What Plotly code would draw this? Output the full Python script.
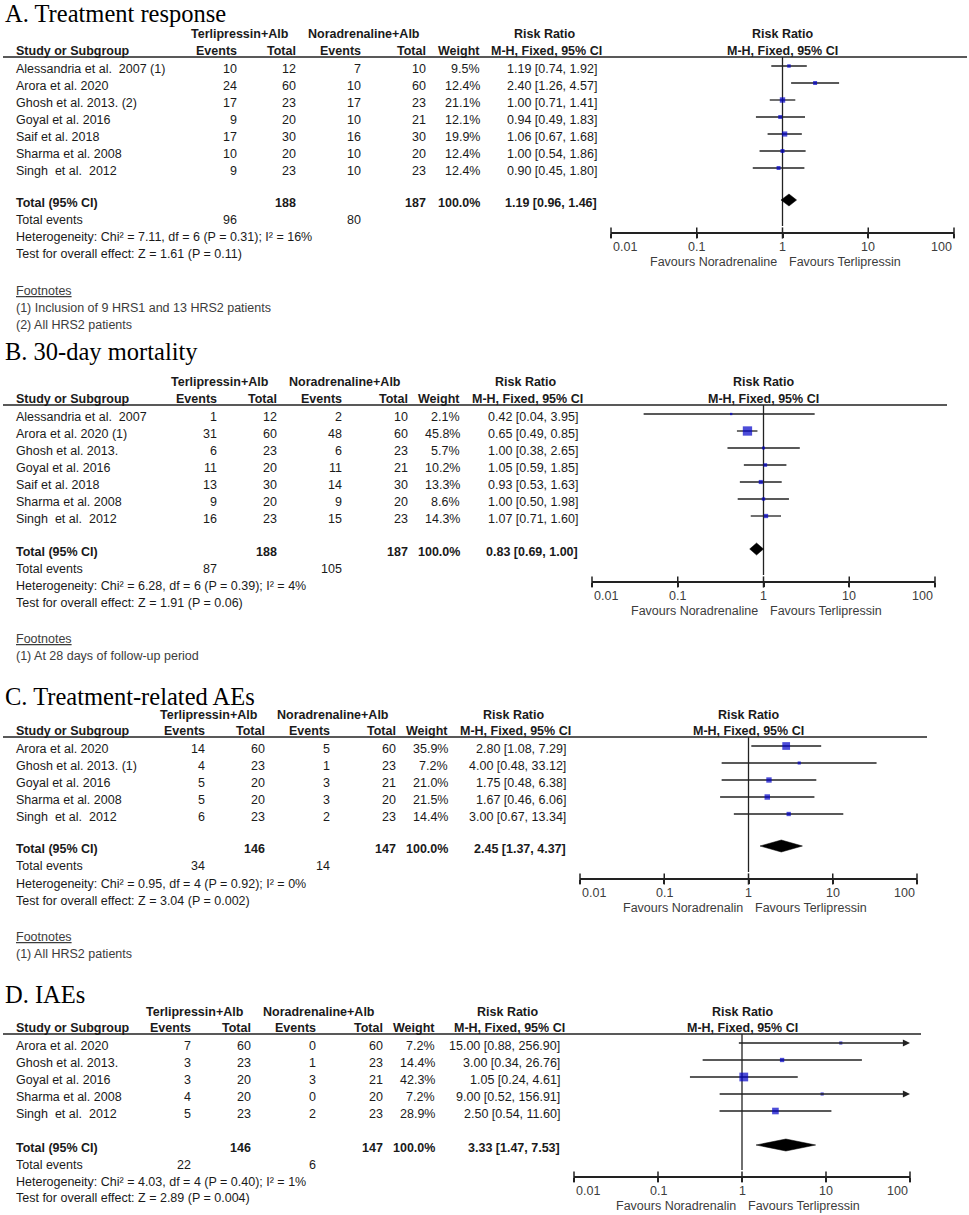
import math
import plotly.graph_objects as go

W, H = 969, 1215

# ======================= DATA =======================
TICK_VALUES = [0.01, 0.1, 1, 10, 100]
TICK_LABELS = ["0.01", "0.1", "1", "10", "100"]
GROUP_T = "Terlipressin+Alb"
GROUP_C = "Noradrenaline+Alb"
TOTAL_WEIGHT = 100.0

# ---- A. Treatment response ----
A_title = "A. Treatment response"
A_studies = ["Alessandria et al.  2007 (1)", "Arora et al. 2020", "Ghosh et al. 2013. (2)",
             "Goyal et al. 2016", "Saif et al. 2018", "Sharma et al. 2008", "Singh  et al.  2012"]
A_t_events = [10, 24, 17, 9, 17, 10, 9]
A_t_total = [12, 60, 23, 20, 30, 20, 23]
A_c_events = [7, 10, 17, 10, 16, 10, 10]
A_c_total = [10, 60, 23, 21, 30, 20, 23]
A_weight = [9.5, 12.4, 21.1, 12.1, 19.9, 12.4, 12.4]
A_rr = [1.19, 2.40, 1.00, 0.94, 1.06, 1.00, 0.90]
A_lo = [0.74, 1.26, 0.71, 0.49, 0.67, 0.54, 0.45]
A_hi = [1.92, 4.57, 1.41, 1.83, 1.68, 1.86, 1.80]
A_pooled = [1.19, 0.96, 1.46]
A_het = "Heterogeneity: Chi² = 7.11, df = 6 (P = 0.31); I² = 16%"
A_test = "Test for overall effect: Z = 1.61 (P = 0.11)"
A_footnotes = ["(1) Inclusion of 9 HRS1 and 13 HRS2 patients", "(2) All HRS2 patients"]
A_favours = ["Favours Noradrenaline", "Favours Terlipressin"]

# ---- B. 30-day mortality ----
B_title = "B. 30-day mortality"
B_studies = ["Alessandria et al.  2007", "Arora et al. 2020 (1)", "Ghosh et al. 2013.",
             "Goyal et al. 2016", "Saif et al. 2018", "Sharma et al. 2008", "Singh  et al.  2012"]
B_t_events = [1, 31, 6, 11, 13, 9, 16]
B_t_total = [12, 60, 23, 20, 30, 20, 23]
B_c_events = [2, 48, 6, 11, 14, 9, 15]
B_c_total = [10, 60, 23, 21, 30, 20, 23]
B_weight = [2.1, 45.8, 5.7, 10.2, 13.3, 8.6, 14.3]
B_rr = [0.42, 0.65, 1.00, 1.05, 0.93, 1.00, 1.07]
B_lo = [0.04, 0.49, 0.38, 0.59, 0.53, 0.50, 0.71]
B_hi = [3.95, 0.85, 2.65, 1.85, 1.63, 1.98, 1.60]
B_pooled = [0.83, 0.69, 1.00]
B_het = "Heterogeneity: Chi² = 6.28, df = 6 (P = 0.39); I² = 4%"
B_test = "Test for overall effect: Z = 1.91 (P = 0.06)"
B_footnotes = ["(1) At 28 days of follow-up period"]
B_favours = ["Favours Noradrenaline", "Favours Terlipressin"]

# ---- C. Treatment-related AEs ----
C_title = "C. Treatment-related AEs"
C_studies = ["Arora et al. 2020", "Ghosh et al. 2013. (1)", "Goyal et al. 2016",
             "Sharma et al. 2008", "Singh  et al.  2012"]
C_t_events = [14, 4, 5, 5, 6]
C_t_total = [60, 23, 20, 20, 23]
C_c_events = [5, 1, 3, 3, 2]
C_c_total = [60, 23, 21, 20, 23]
C_weight = [35.9, 7.2, 21.0, 21.5, 14.4]
C_rr = [2.80, 4.00, 1.75, 1.67, 3.00]
C_lo = [1.08, 0.48, 0.48, 0.46, 0.67]
C_hi = [7.29, 33.12, 6.38, 6.06, 13.34]
C_pooled = [2.45, 1.37, 4.37]
C_het = "Heterogeneity: Chi² = 0.95, df = 4 (P = 0.92); I² = 0%"
C_test = "Test for overall effect: Z = 3.04 (P = 0.002)"
C_footnotes = ["(1) All HRS2 patients"]
C_favours = ["Favours Noradrenalin", "Favours Terlipressin"]

# ---- D. IAEs ----
D_title = "D. IAEs"
D_studies = ["Arora et al. 2020", "Ghosh et al. 2013.", "Goyal et al. 2016",
             "Sharma et al. 2008", "Singh  et al.  2012"]
D_t_events = [7, 3, 3, 4, 5]
D_t_total = [60, 23, 20, 20, 23]
D_c_events = [0, 1, 3, 0, 2]
D_c_total = [60, 23, 21, 20, 23]
D_weight = [7.2, 14.4, 42.3, 7.2, 28.9]
D_rr = [15.00, 3.00, 1.05, 9.00, 2.50]
D_lo = [0.88, 0.34, 0.24, 0.52, 0.54]
D_hi = [256.90, 26.76, 4.61, 156.91, 11.60]
D_pooled = [3.33, 1.47, 7.53]
D_het = "Heterogeneity: Chi² = 4.03, df = 4 (P = 0.40); I² = 1%"
D_test = "Test for overall effect: Z = 2.89 (P = 0.004)"
D_footnotes = []
D_favours = ["Favours Noradrenalin", "Favours Terlipressin"]

# ======================= LAYOUT (pixel positions per panel) =======================
PANEL_LAYOUT = [
    dict(title_y=13, h1=34, h2=51, row0=66, total=200, events=220, het=237, test=254, foot=291,
         axis=233, x0=611, x1=954, line_end=967, cols=(239, 298, 363, 428, 482, 599), groups=(240, 364)),
    dict(title_y=351, h1=382, h2=399, row0=414, total=549, events=569, het=586, test=603, foot=639,
         axis=582, x0=592, x1=935, line_end=947, cols=(219, 279, 344, 410, 462, 580), groups=(220, 345)),
    dict(title_y=696, h1=715, h2=731, row0=746, total=846, events=866, het=884, test=901, foot=937,
         axis=879, x0=580, x1=917, line_end=927, cols=(207, 267, 332, 398, 450, 568), groups=(209, 333)),
    dict(title_y=994, h1=1012, h2=1028, row0=1043, total=1145, events=1165, het=1182, test=1198, foot=None,
         axis=1177, x0=574, x1=910, line_end=921, cols=(193, 253, 318, 385, 437, 562), groups=(195, 319)),
]

PANELS = [
    dict(title=A_title, studies=A_studies, te=A_t_events, tt=A_t_total, ce=A_c_events, ct=A_c_total,
         w=A_weight, rr=A_rr, lo=A_lo, hi=A_hi, pooled=A_pooled, het=A_het, test=A_test,
         foot=A_footnotes, fav=A_favours),
    dict(title=B_title, studies=B_studies, te=B_t_events, tt=B_t_total, ce=B_c_events, ct=B_c_total,
         w=B_weight, rr=B_rr, lo=B_lo, hi=B_hi, pooled=B_pooled, het=B_het, test=B_test,
         foot=B_footnotes, fav=B_favours),
    dict(title=C_title, studies=C_studies, te=C_t_events, tt=C_t_total, ce=C_c_events, ct=C_c_total,
         w=C_weight, rr=C_rr, lo=C_lo, hi=C_hi, pooled=C_pooled, het=C_het, test=C_test,
         foot=C_footnotes, fav=C_favours),
    dict(title=D_title, studies=D_studies, te=D_t_events, tt=D_t_total, ce=D_c_events, ct=D_c_total,
         w=D_weight, rr=D_rr, lo=D_lo, hi=D_hi, pooled=D_pooled, het=D_het, test=D_test,
         foot=D_footnotes, fav=D_favours),
]

ROW_DY = 17
TEXT_OFF = 2.5
FONT = "Liberation Sans, Arial, sans-serif"
SERIF = "Liberation Serif, Times New Roman, serif"
TXT = "#1a1a1a"
GREY = "#3c3c3c"
LINE = "#222222"
BLUE = "#0000C8"
FS = 12.5

fig = go.Figure()
annotations = []
shapes = []


def keep_spaces(s):
    return s.replace("  ", " \u00a0")


def txt(x, y, s, anchor="left", bold=False, size=FS, color=TXT, xref="paper", family=FONT, xshift=0):
    if bold:
        s = "<b>" + s + "</b>"
    annotations.append(dict(
        x=(x / W) if xref == "paper" else x, y=y, xref=xref, yref="y",
        text=s, showarrow=False, xanchor=anchor, yanchor="middle", xshift=xshift,
        font=dict(family=family, size=size, color=color)))


layout_axes = {}
for i, (P, L) in enumerate(zip(PANELS, PANEL_LAYOUT)):
    n = "" if i == 0 else str(i + 1)
    xname = "x" + n
    axmin, axmax = TICK_VALUES[0], TICK_VALUES[-1]
    layout_axes["xaxis" + n] = dict(
        type="log", range=[math.log10(axmin), math.log10(axmax)],
        domain=[L["x0"] / W, L["x1"] / W], anchor="free", position=1 - L["axis"] / H,
        showline=True, linecolor=LINE, linewidth=1.5,
        ticks="outside", ticklen=4, tickwidth=1.5, tickcolor=LINE,
        tickmode="array", tickvals=TICK_VALUES, showticklabels=False,
        showgrid=False, zeroline=False, fixedrange=True)

    ev_t, tot_t, ev_c, tot_c, wt, ci = L["cols"]
    g1, g2 = L["groups"]
    rr_hdr = ci - 55

    # title
    txt(3, L["title_y"], P["title"], size=24.5, color="#000000", family=SERIF)

    # headers
    txt(g1, L["h1"], GROUP_T, "center", bold=True)
    txt(g2, L["h1"], GROUP_C, "center", bold=True)
    txt(rr_hdr, L["h1"], "Risk Ratio", "center", bold=True)
    txt(0, L["h1"], "Risk Ratio", "center", bold=True, xref=xname)
    txt(14, L["h2"], "Study or Subgroup", "left", bold=True)
    txt(ev_t, L["h2"], "Events", "right", bold=True)
    txt(tot_t, L["h2"], "Total", "right", bold=True)
    txt(ev_c, L["h2"], "Events", "right", bold=True)
    txt(tot_c, L["h2"], "Total", "right", bold=True)
    txt(wt, L["h2"], "Weight", "right", bold=True)
    txt(rr_hdr + 2, L["h2"], "M-H, Fixed, 95% CI", "center", bold=True)
    txt(0, L["h2"], "M-H, Fixed, 95% CI", "center", bold=True, xref=xname)
    line_y = L["h2"] + 6
    shapes.append(dict(type="line", xref="paper", yref="y", x0=3 / W, x1=L["line_end"] / W,
                       y0=line_y, y1=line_y, line=dict(color=LINE, width=1.5)))

    # study rows
    ys = [L["row0"] + k * ROW_DY for k in range(len(P["studies"]))]
    for k, y in enumerate(ys):
        ty = y + TEXT_OFF
        txt(14, ty, keep_spaces(P["studies"][k]))
        txt(ev_t, ty, str(P["te"][k]), "right")
        txt(tot_t, ty, str(P["tt"][k]), "right")
        txt(ev_c, ty, str(P["ce"][k]), "right")
        txt(tot_c, ty, str(P["ct"][k]), "right")
        txt(wt, ty, f"{P['w'][k]:.1f}%", "right")
        txt(ci, ty, f"{P['rr'][k]:.2f} [{P['lo'][k]:.2f}, {P['hi'][k]:.2f}]", "right")

    # total rows
    ty = L["total"] + TEXT_OFF
    txt(14, ty, "Total (95% CI)", bold=True)
    txt(tot_t, ty, str(sum(P["tt"])), "right", bold=True)
    txt(tot_c, ty, str(sum(P["ct"])), "right", bold=True)
    txt(wt, ty, f"{TOTAL_WEIGHT:.1f}%", "right", bold=True)
    pe, pl, ph = P["pooled"]
    txt(ci, ty, f"{pe:.2f} [{pl:.2f}, {ph:.2f}]", "right", bold=True)
    txt(14, L["events"], "Total events")
    txt(ev_t, L["events"], str(sum(P["te"])), "right")
    txt(ev_c, L["events"], str(sum(P["ce"])), "right")
    txt(14, L["het"], P["het"])
    txt(14, L["test"], P["test"])

    if P["foot"]:
        txt(14, L["foot"], "<span style='text-decoration:underline'>Footnotes</span>", color=GREY)
        for j, f in enumerate(P["foot"]):
            txt(14, L["foot"] + 17 * (j + 1), f, color=GREY)

    # axis tick labels & favours
    anchors = ["left"] + ["center"] * (len(TICK_VALUES) - 2) + ["right"]
    for v, lab, a in zip(TICK_VALUES, TICK_LABELS, anchors):
        txt(math.log10(v), L["axis"] + 14, lab, a, color=GREY, xref=xname)
    txt(0, L["axis"] + 29, P["fav"][0], "right", color=GREY, xref=xname, xshift=-4)
    txt(0, L["axis"] + 29, P["fav"][1], "left", color=GREY, xref=xname, xshift=4)

    # tick marks crossing the axis (upper part)
    fig.add_trace(go.Scatter(x=TICK_VALUES, y=[L["axis"]] * len(TICK_VALUES), xaxis=xname, yaxis="y",
                             mode="markers", cliponaxis=False, hoverinfo="skip",
                             marker=dict(symbol="line-ns", size=8, line=dict(color=LINE, width=1.5))))

    # line of no effect
    fig.add_trace(go.Scatter(x=[1, 1], y=[line_y, L["axis"] - 7], xaxis=xname, yaxis="y", mode="lines",
                             line=dict(color=LINE, width=1.3), hoverinfo="skip", cliponaxis=False))

    # CI lines
    cx, cy = [], []
    for k, y in enumerate(ys):
        lo, hi = P["lo"][k], P["hi"][k]
        if hi > axmax:
            annotations.append(dict(
                x=math.log10(axmax), y=y, xref=xname, yref="y",
                ax=math.log10(lo), ay=y, axref=xname, ayref="y",
                text="", showarrow=True, arrowhead=2, arrowsize=1.1, arrowwidth=1.3,
                arrowcolor=LINE, standoff=0, startstandoff=0))
        else:
            cx += [lo, hi, None]
            cy += [y, y, None]
    fig.add_trace(go.Scatter(x=cx, y=cy, xaxis=xname, yaxis="y", mode="lines",
                             line=dict(color=LINE, width=1.3), hoverinfo="skip"))

    # squares (area grows with weight)
    fig.add_trace(go.Scatter(x=P["rr"], y=ys, xaxis=xname, yaxis="y", mode="markers",
                             marker=dict(symbol="square", color=BLUE,
                                         size=[2 + 0.16 * w for w in P["w"]], line=dict(width=0)),
                             hoverinfo="skip"))

    # pooled diamond
    dy = L["total"]
    fig.add_trace(go.Scatter(x=[pl, pe, ph, pe, pl], y=[dy, dy - 6, dy, dy + 6, dy],
                             xaxis=xname, yaxis="y", mode="lines", fill="toself",
                             fillcolor="#000000", line=dict(color="#000000", width=0.5),
                             hoverinfo="skip"))

fig.update_layout(
    width=W, height=H, margin=dict(l=0, r=0, t=0, b=0, pad=0),
    paper_bgcolor="white", plot_bgcolor="rgba(0,0,0,0)", showlegend=False,
    yaxis=dict(range=[H, 0], domain=[0, 1], visible=False, fixedrange=True),
    annotations=annotations, shapes=shapes, **layout_axes)

fig.write_html("out.html", config={"displayModeBar": False},
               post_script="document.body.style.margin='0';document.body.style.overflow='hidden';")
